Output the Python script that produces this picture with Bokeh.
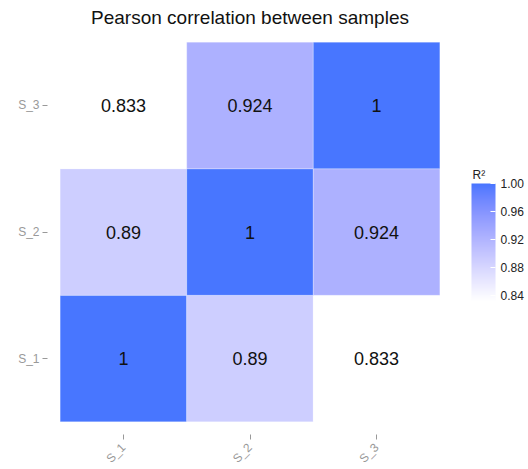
import numpy as np
from bokeh.plotting import figure
from bokeh.models import (ColumnDataSource, LinearColorMapper, ColorBar, FixedTicker,
                          FactorRange, PrintfTickFormatter)
from bokeh.embed import file_html
from bokeh.resources import INLINE

samples = ["S_1", "S_2", "S_3"]
corr = [[1.0, 0.89, 0.833],
        [0.89, 1.0, 0.924],
        [0.833, 0.924, 1.0]]
labels = [["1", "0.89", "0.833"],
          ["0.89", "1", "0.924"],
          ["0.833", "0.924", "1"]]
legend_ticks = [0.84, 0.88, 0.92, 0.96, 1.00]
legend_title = "R²"

# ---- Lab-space gradient white -> royalblue1 (ggplot scale_fill_gradient) ----
def _to_lin(c):
    c = c / 255.0
    return np.where(c <= 0.04045, c / 12.92, ((c + 0.055) / 1.055) ** 2.4)

def _from_lin(c):
    c = np.clip(c, 0, 1)
    return np.where(c <= 0.0031308, 12.92 * c, 1.055 * c ** (1 / 2.4) - 0.055) * 255

M = np.array([[0.4124, 0.3576, 0.1805], [0.2126, 0.7152, 0.0722], [0.0193, 0.1192, 0.9505]])
Mi = np.linalg.inv(M)
WP = np.array([0.95047, 1.0, 1.08883])

def rgb2lab(rgb):
    xyz = M @ _to_lin(np.array(rgb, float)) / WP
    f = np.where(xyz > 216 / 24389, np.cbrt(xyz), (24389 / 27 * xyz + 16) / 116)
    return np.array([116 * f[1] - 16, 500 * (f[0] - f[1]), 200 * (f[1] - f[2])])

def lab2rgb(lab):
    fy = (lab[0] + 16) / 116
    fx = fy + lab[1] / 500
    fz = fy - lab[2] / 200
    f = np.array([fx, fy, fz])
    xyz = np.where(f ** 3 > 216 / 24389, f ** 3, (116 * f - 16) / (24389 / 27)) * WP
    return _from_lin(Mi @ xyz)

lo, hi = rgb2lab([255, 255, 255]), rgb2lab([72, 118, 255])
palette = []
for t in np.linspace(0, 1, 256):
    r, g, b = np.round(lab2rgb(lo + (hi - lo) * t)).astype(int)
    palette.append("#%02x%02x%02x" % (r, g, b))

xs, ys, vals, txt = [], [], [], []
for i, sy in enumerate(samples):
    for j, sx in enumerate(samples):
        xs.append(sx); ys.append(sy); vals.append(corr[i][j]); txt.append(labels[i][j])
src = ColumnDataSource(dict(x=xs, y=ys, v=vals, t=txt))

vmin = min(min(r) for r in corr); vmax = max(max(r) for r in corr)
mapper = LinearColorMapper(palette=palette, low=vmin, high=vmax)

xr = FactorRange(*samples, range_padding=0.1, range_padding_units="absolute")
yr = FactorRange(*samples, range_padding=0.1, range_padding_units="absolute")
p = figure(frame_width=405, frame_height=405, x_range=xr, y_range=yr,
           output_backend="svg", toolbar_location=None,
           min_border_left=47, min_border_right=76, min_border_top=29, min_border_bottom=35)
p.title.text = "Pearson correlation between samples"
p.title.align = "center"
p.title.text_font = "Liberation Sans"
p.title.text_font_size = "19px"
p.title.text_font_style = "normal"
p.title.text_color = "#111111"
p.title.standoff = 3

p.rect("x", "y", width=1, height=1, source=src,
       fill_color={"field": "v", "transform": mapper},
       line_color="white", line_alpha=0.25, line_width=1)
p.text("x", "y", text="t", source=src, text_align="center", text_baseline="middle",
       text_font_size="18px", text_color="#111111", text_font={"value": "Liberation Sans"})

p.outline_line_color = None
p.grid.grid_line_color = None
for ax in (p.xaxis, p.yaxis):
    ax.axis_line_color = None
    ax.major_tick_line_color = "#999999"
    ax.major_tick_in = 0
    ax.major_tick_out = 5
    ax.major_label_standoff = 3
    ax.major_label_text_color = "#999999"
    ax.major_label_text_font = "Liberation Sans"
    ax.major_label_text_font_size = "12px"
p.xaxis.major_label_orientation = np.pi / 4
p.xaxis.major_label_standoff = 6

cb = ColorBar(color_mapper=mapper, ticker=FixedTicker(ticks=legend_ticks),
              formatter=PrintfTickFormatter(format="%.2f"),
              width=24, height=117, title=None,
              major_label_text_font="Liberation Sans", major_label_text_font_size="12px",
              major_label_text_color="#222222",
              major_tick_line_color="white", major_tick_in=5, major_tick_out=0,
              bar_line_color=None, border_line_color=None, background_fill_color=None,
              padding=0, margin=0, label_standoff=5, location=(424, 134))
p.add_layout(cb, "center")

# legend title: an invisible horizontal bar that only carries the (horizontal) title
cb_title = ColorBar(color_mapper=mapper, orientation="horizontal", ticker=FixedTicker(ticks=[]),
                    width=24, height=1, scale_alpha=0, title=legend_title,
                    title_text_font="Liberation Sans", title_text_font_size="12px",
                    title_text_font_style="normal", title_text_color="#222222", title_standoff=0,
                    major_label_text_alpha=0, major_tick_line_color=None, minor_tick_line_color=None,
                    bar_line_color=None, border_line_color=None, background_fill_color=None,
                    padding=0, margin=0, location=(425, 252))
p.add_layout(cb_title, "center")

open("out.html", "w").write(file_html(p, INLINE))
